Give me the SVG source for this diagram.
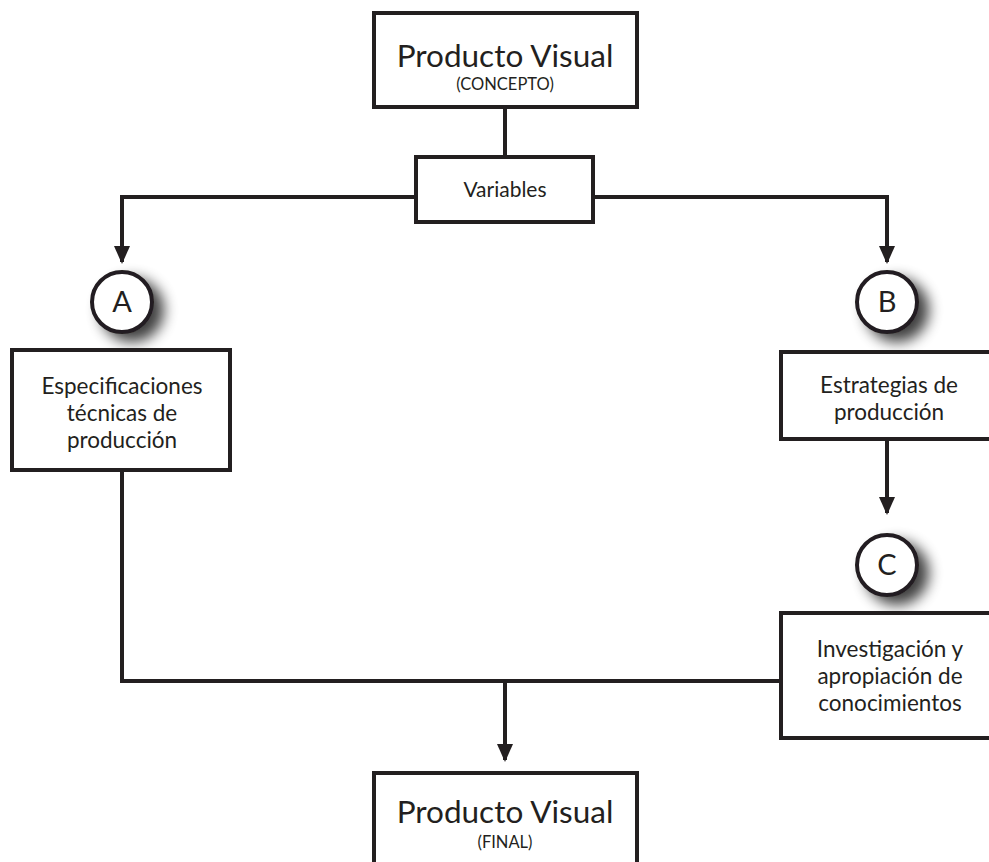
<svg xmlns="http://www.w3.org/2000/svg" width="989" height="862" viewBox="0 0 989 862">
  <defs>
    <style>
      .box { fill: #ffffff; stroke: #231f20; stroke-width: 4; }
      .circ { fill: #ffffff; stroke: #231f20; stroke-width: 4; }
      .conn { fill: none; stroke: #231f20; stroke-width: 4; }
      text { font-family: Lato, "Open Sans", "Liberation Sans", sans-serif; fill: #231f20; text-anchor: middle; }
      .big { font-size: 31.5px; }
      .small { font-size: 16.5px; }
      .mid { font-size: 22.5px; }
      .var { font-size: 21px; }
      .letter { font-size: 29px; }
    </style>
    <marker id="arrow" viewBox="0 0 18 20" refX="16" refY="10" markerWidth="18" markerHeight="20" markerUnits="userSpaceOnUse" orient="auto">
      <path d="M0,2 L18,10 L0,18 Z" fill="#231f20"/>
    </marker>
    <filter id="shadow" x="-60%" y="-60%" width="240%" height="240%">
      <feGaussianBlur in="SourceAlpha" stdDeviation="7"/>
      <feOffset dx="10" dy="8" result="b"/>
      <feComponentTransfer><feFuncA type="linear" slope="0.75"/></feComponentTransfer>
      <feMerge><feMergeNode/><feMergeNode in="SourceGraphic"/></feMerge>
    </filter>
  </defs>
  <rect width="989" height="862" fill="#ffffff"/>

  <g id="connectors">
    <line class="conn" x1="505" y1="107" x2="505" y2="157"/>
    <path class="conn" d="M416,197 H122 V262" marker-end="url(#arrow)"/>
    <path class="conn" d="M593,197 H887 V262" marker-end="url(#arrow)"/>
    <path class="conn" d="M887,439 V513" marker-end="url(#arrow)"/>
    <path class="conn" d="M122,470 V681 H781"/>
    <path class="conn" d="M505,681 V760" marker-end="url(#arrow)"/>
  </g>

  <g id="concepto">
    <rect class="box" x="374" y="13" width="263" height="94"/>
    <text class="big" x="505" y="67">Producto Visual</text>
    <text class="small" x="505" y="90">(CONCEPTO)</text>
  </g>

  <g id="variables">
    <rect class="box" x="416" y="157" width="177" height="65"/>
    <text class="var" x="505" y="197">Variables</text>
  </g>

  <g id="circleA">
    <circle class="circ" cx="122" cy="302" r="30" filter="url(#shadow)"/>
    <text class="letter" x="122" y="312">A</text>
  </g>

  <g id="circleB">
    <circle class="circ" cx="887" cy="302" r="30" filter="url(#shadow)"/>
    <text class="letter" x="887" y="312">B</text>
  </g>

  <g id="circleC">
    <circle class="circ" cx="887" cy="565" r="30" filter="url(#shadow)"/>
    <text class="letter" x="887" y="575">C</text>
  </g>

  <g id="especificaciones">
    <rect class="box" x="12" y="350" width="218" height="120"/>
    <text class="mid" x="122" y="394">Especificaciones</text>
    <text class="mid" x="122" y="421">técnicas de</text>
    <text class="mid" x="122" y="448">producción</text>
  </g>

  <g id="estrategias">
    <rect class="box" x="781" y="352" width="220" height="87"/>
    <text class="mid" x="889" y="393">Estrategias de</text>
    <text class="mid" x="889" y="420">producción</text>
  </g>

  <g id="investigacion">
    <rect class="box" x="781" y="613" width="220" height="125"/>
    <text class="mid" x="890" y="657">Investigación y</text>
    <text class="mid" x="890" y="684">apropiación de</text>
    <text class="mid" x="890" y="711">conocimientos</text>
  </g>

  <g id="final">
    <rect class="box" x="374" y="773" width="263" height="100"/>
    <text class="big" x="505" y="823">Producto Visual</text>
    <text class="small" x="505" y="848">(FINAL)</text>
  </g>
</svg>
